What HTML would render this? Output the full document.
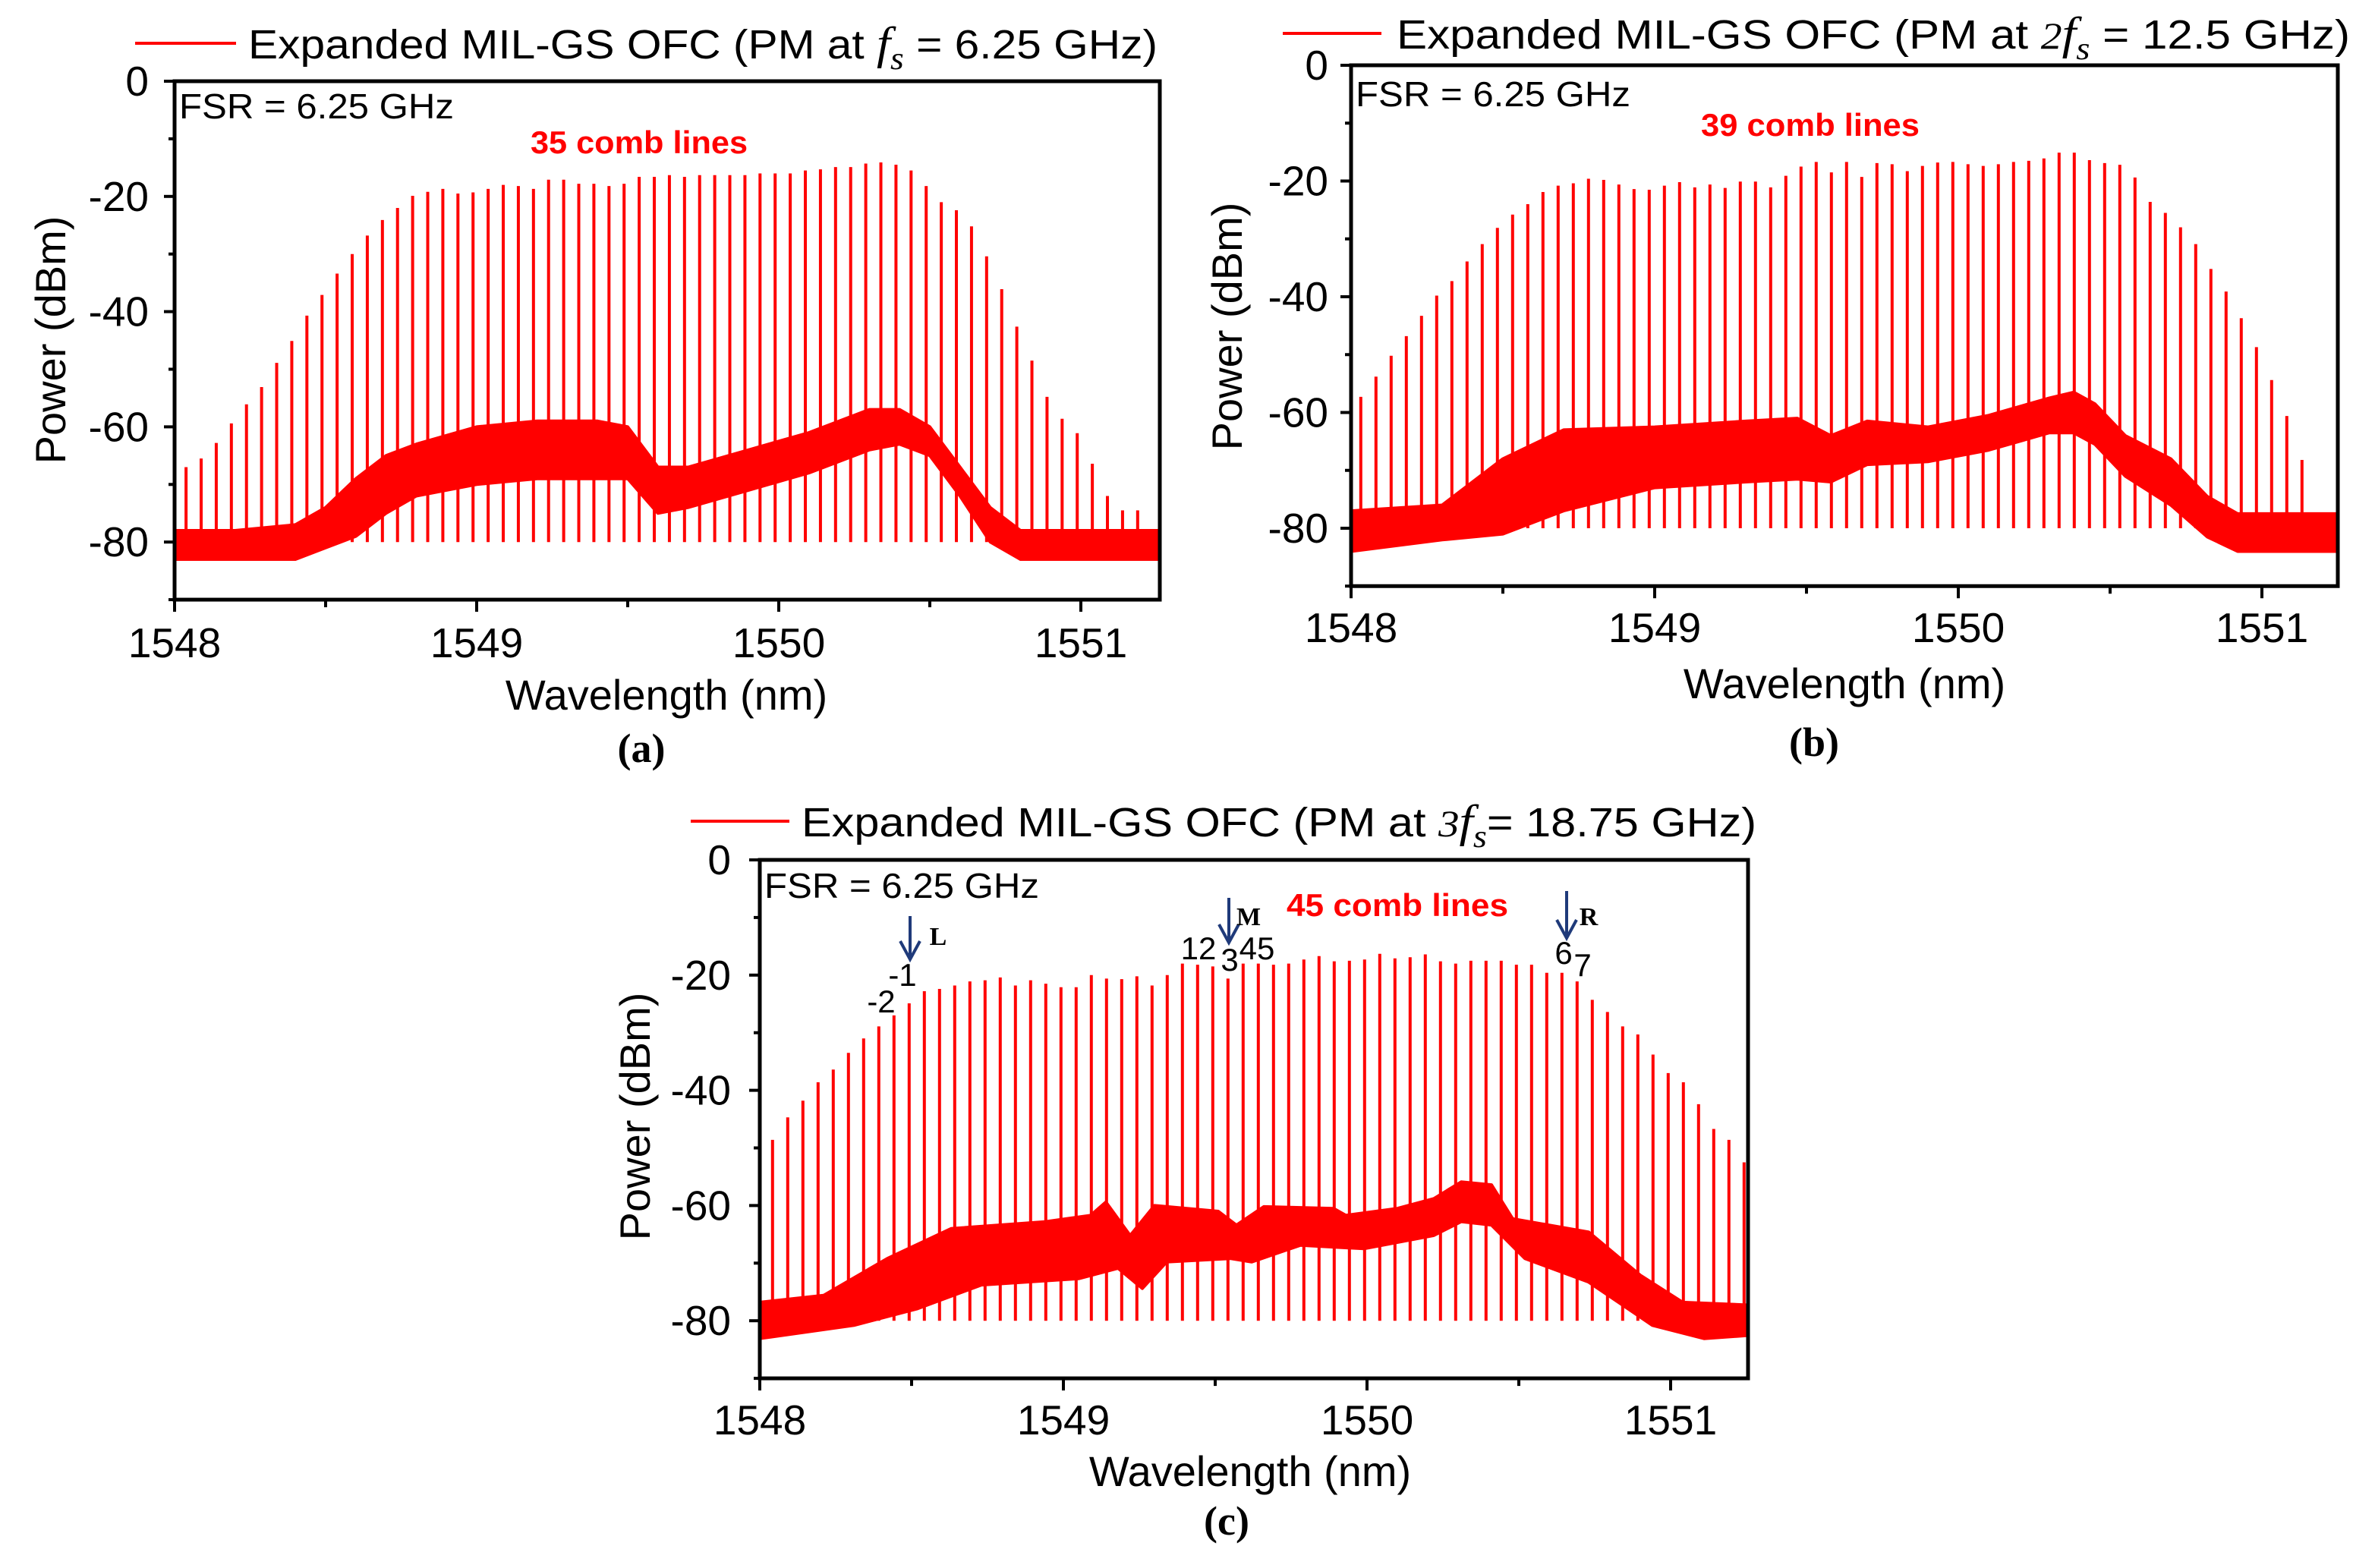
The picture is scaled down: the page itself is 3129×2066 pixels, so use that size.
<!DOCTYPE html>
<html><head><meta charset="utf-8">
<style>
html,body{margin:0;padding:0;background:#fff;}
svg{display:block;}
text{font-family:"Liberation Sans",Arial,sans-serif;}
</style></head>
<body>
<svg id="fig" xmlns="http://www.w3.org/2000/svg" width="3129" height="2066" viewBox="0 0 3129 2066">
<rect x="0" y="0" width="3129" height="2066" fill="#fff"/>
</svg>
<script>
// ---------- DATA ----------
const xTickLabels = [1548, 1549, 1550, 1551];
const yTickLabels = [0, -20, -40, -60, -80];
const yMinorTicks = [-10, -30, -50, -70, -90];
const combFsrNm = 0.05;

// panel a
const combStartA = 1548.038;
const combPeaksA = [-67.0,-65.5,-62.8,-59.4,-56.1,-53.1,-48.9,-45.1,-40.7,-37.1,-33.4,-30.0,-26.8,-24.1,-22.0,-19.9,-19.2,-18.7,-19.5,-19.3,-18.7,-18.0,-18.2,-18.7,-17.1,-17.1,-17.8,-17.8,-18.2,-17.8,-16.6,-16.6,-16.3,-16.6,-16.3,-16.3,-16.3,-16.3,-16.0,-16.0,-16.0,-15.5,-15.3,-14.9,-14.9,-14.3,-14.1,-14.5,-15.5,-18.2,-21.0,-22.4,-25.2,-30.4,-36.1,-42.6,-48.5,-54.8,-58.6,-61.1,-66.4,-72.0,-74.5,-74.5];
const floorWlA = [1548.0,1548.2,1548.4,1548.5,1548.6,1548.7,1548.8,1549.0,1549.2,1549.4,1549.5,1549.6,1549.7,1549.9,1550.1,1550.3,1550.4,1550.5,1550.6,1550.7,1550.8,1551.0,1551.26];
const floorUpA = [-78,-78,-77,-74,-69,-65,-63,-60,-59,-59,-60,-67,-67,-64,-61,-57,-57,-60,-67,-74,-78,-78,-78];
const floorLoA = [-83,-83,-83,-81,-79,-75,-72,-70,-69,-69,-69,-75,-74,-71,-68,-64,-63,-65,-72,-80,-83,-83,-83];

// panel b
const combStartB = 1548.032;
const combPeaksB = [-57.3,-53.8,-50.2,-46.8,-43.3,-39.8,-37.3,-33.9,-30.9,-28.1,-25.8,-24.0,-21.9,-20.8,-20.4,-19.6,-19.8,-20.6,-21.4,-21.5,-20.8,-20.2,-21.1,-20.6,-21.2,-20.1,-20.1,-21.1,-19.1,-17.5,-16.7,-18.5,-16.7,-19.3,-16.9,-17.1,-18.3,-17.4,-16.8,-16.7,-17.1,-17.4,-17.1,-16.7,-16.5,-16.1,-15.1,-15.1,-16.4,-16.9,-17.2,-19.4,-23.6,-25.5,-28.0,-30.9,-35.2,-39.1,-43.7,-48.7,-54.4,-60.6,-68.2];
const floorWlB = [1548.0,1548.3,1548.5,1548.7,1549.0,1549.3,1549.47,1549.58,1549.7,1549.9,1550.1,1550.3,1550.38,1550.45,1550.55,1550.7,1550.82,1550.92,1551.26];
const floorUpB = [-77,-76,-68,-63,-62.5,-61.5,-61,-64,-61.5,-62.5,-60.5,-57.5,-56.5,-58.5,-64,-68,-74.5,-77.5,-77.5];
const floorLoB = [-84,-82,-81,-77,-73,-72,-71.5,-72,-69,-68.5,-66.5,-63.5,-63.5,-65.5,-71,-76,-81.5,-84,-84];

// panel c
const combStartC = 1548.042;
const combPeaksC = [-48.6,-44.7,-41.8,-38.6,-36.4,-33.5,-31.0,-28.9,-27.0,-24.9,-22.8,-22.4,-21.8,-21.1,-20.9,-20.4,-21.8,-20.9,-21.5,-22.1,-22.1,-20.0,-20.6,-20.7,-20.2,-21.8,-20.0,-18.0,-18.2,-18.5,-20.6,-18.0,-18.0,-18.2,-18.0,-17.3,-16.7,-17.6,-17.5,-17.3,-16.3,-17.1,-16.9,-16.4,-17.6,-18.0,-17.5,-17.5,-17.5,-18.2,-18.2,-19.6,-19.6,-21.1,-24.3,-26.4,-28.9,-30.3,-33.8,-37.0,-38.6,-42.4,-46.7,-48.6,-52.5];
const floorWlUpC = [1548.0,1548.21,1548.42,1548.63,1548.94,1549.09,1549.14,1549.22,1549.3,1549.51,1549.57,1549.66,1549.89,1549.93,1550.1,1550.22,1550.31,1550.41,1550.48,1550.73,1550.9,1551.04,1551.27];
const floorUpC = [-76.8,-75.6,-69.2,-64,-62.8,-61.7,-59.4,-65.2,-60,-61,-63.4,-60.2,-60.5,-61.7,-60.5,-58.8,-55.9,-56.4,-62.3,-64.6,-72.1,-76.8,-77.3];
const floorWlLoC = [1548.0,1548.31,1548.52,1548.73,1549.05,1549.18,1549.26,1549.34,1549.55,1549.62,1549.78,1549.99,1550.22,1550.31,1550.41,1550.52,1550.73,1550.94,1551.11,1551.27];
const floorLoC = [-83.1,-80.8,-77.9,-73.8,-72.7,-70.9,-74.4,-69.8,-69.2,-69.8,-66.9,-67.5,-65.2,-62.8,-63.4,-69.2,-73.3,-80.8,-83.1,-82.5];

// ---------- DRAW ----------
const NS = "http://www.w3.org/2000/svg";
const svg = document.getElementById('fig');
function mk(tag, attrs, parent){
  const e = document.createElementNS(NS, tag);
  for (const k in attrs) e.setAttribute(k, attrs[k]);
  (parent || svg).appendChild(e);
  return e;
}
function txt(parent, s, attrs){ const t = mk('text', attrs, parent); t.textContent = s; return t; }

function drawPanel(p){
  const g = mk('g', {});
  
  
  const X = v => p.x0 + (v - 1548) * p.pxNm;
  const Y = v => p.y0 - v * p.pxDb;
  const yb = Y(-90);
  const cp = mk('clipPath', {id: 'clip' + p.id}, g);
  mk('rect', {x: p.x0, y: p.y0, width: p.xr - p.x0, height: yb - p.y0}, cp);
  const plot = mk('g', {'clip-path': 'url(#clip' + p.id + ')'}, g);
  
  
  let pts = [];
  for (let i = 0; i < p.wlUp.length; i++) pts.push(X(p.wlUp[i]).toFixed(1) + ',' + Y(p.up[i]).toFixed(1));
  for (let i = p.wlLo.length - 1; i >= 0; i--) pts.push(X(p.wlLo[i]).toFixed(1) + ',' + Y(p.lo[i]).toFixed(1));
  const band = mk('polygon', {points: pts.join(' '), fill: '#ff0000', stroke: '#ff0000', 'stroke-width': 4, 'stroke-linejoin': 'round'}, plot);
  
  
  for (let i = 0; i < p.peaks.length; i++){
    const wl = p.start + i * combFsrNm;
    const ln = mk('line', {x1: X(wl), x2: X(wl), y1: Y(p.peaks[i]), y2: Y(-80), stroke: '#ff0000', 'stroke-width': 4}, plot);
    
    
  }
  const fr = mk('rect', {x: p.x0, y: p.y0, width: p.xr - p.x0, height: yb - p.y0, fill: 'none', stroke: '#000', 'stroke-width': 5}, g);
  
  
  yTickLabels.forEach(v => {
    mk('line', {x1: p.x0 - 14, x2: p.x0, y1: Y(v), y2: Y(v), stroke: '#000', 'stroke-width': 4}, g);
    const t = txt(g, String(v), {x: p.x0 - p.ylGap, y: Y(v) + 19, 'font-size': 55, 'text-anchor': 'end'});
    
    
  });
  yMinorTicks.forEach(v => mk('line', {x1: p.x0 - 8, x2: p.x0, y1: Y(v), y2: Y(v), stroke: '#000', 'stroke-width': 4}, g));
  xTickLabels.forEach(v => {
    mk('line', {x1: X(v), x2: X(v), y1: yb, y2: yb + 16, stroke: '#000', 'stroke-width': 4}, g);
    const t = txt(g, String(v), {x: X(v), y: p.xlY, 'font-size': 55, 'text-anchor': 'middle'});
    
    
    if (X(v + 0.5) < p.xr) mk('line', {x1: X(v + 0.5), x2: X(v + 0.5), y1: yb, y2: yb + 10, stroke: '#000', 'stroke-width': 4}, g);
  });
  const xt = txt(g, 'Wavelength (nm)', {x: p.xtX, y: p.xtY, 'font-size': 56, 'text-anchor': 'middle'});
  
  
  const yt = txt(g, 'Power (dBm)', {x: 0, y: 0, 'font-size': 56, 'text-anchor': 'middle', transform: 'translate(' + (p.ytX + 20) + ',' + p.ytY + ') rotate(-90)'});
  
  
  const pl = txt(g, '(' + p.id + ')', {x: p.plX, y: p.plY, 'font-size': 54, 'font-weight': 'bold', 'text-anchor': 'middle', style: 'font-family:"Liberation Serif",serif'});
  
  
  const fsr = txt(g, 'FSR = 6.25 GHz', {x: p.x0 + 6, y: p.fsrY, 'font-size': 46, textLength: 362, lengthAdjust: 'spacingAndGlyphs'});
  
  
  const cc = txt(g, p.combText, {x: p.ccX, y: p.ccY, 'font-size': 42, 'font-weight': 'bold', fill: '#ff0000', 'text-anchor': 'middle', textLength: p.ccW, lengthAdjust: 'spacingAndGlyphs'});
  
  
  const lg = mk('g', {}, g);
  
  
  mk('line', {x1: p.lgX1, x2: p.lgX2, y1: p.lgY, y2: p.lgY, stroke: '#ff0000', 'stroke-width': 4}, lg);
  const lt = mk('text', {x: p.ltX1, y: p.lgY + 20, 'font-size': 54, textLength: p.ltX2 - p.ltX1, lengthAdjust: 'spacingAndGlyphs'}, lg);
  lt.innerHTML = p.legendHTML;
  return {g, X, Y};
}

const fs = '<tspan font-family="Liberation Serif, serif" font-style="italic" font-size="60">f</tspan><tspan font-family="Liberation Serif, serif" font-style="italic" font-size="42" dy="14">s</tspan>';
const fsEnd = '<tspan dy="-14">';

drawPanel({id:'a', x0:230, xr:1528, y0:107, pxDb:7.59, pxNm:398, peaks:combPeaksA, start:combStartA,
  wlUp:floorWlA, up:floorUpA, wlLo:floorWlA, lo:floorLoA, ylGap:34, xlY:866, xtX:878, xtY:935, ytX:66, ytY:448,
  plX:845, plY:1004, fsrY:156, combText:'35 comb lines', ccX:842, ccY:202, ccW:286,
  lgX1:178, lgX2:311, lgY:57, ltX1:327, ltX2:1525,
  legendHTML:'Expanded MIL-GS OFC (PM at ' + fs + fsEnd + ' = 6.25 GHz)</tspan>'});

drawPanel({id:'b', x0:1780, xr:3080, y0:86, pxDb:7.625, pxNm:400, peaks:combPeaksB, start:combStartB,
  wlUp:floorWlB, up:floorUpB, wlLo:floorWlB, lo:floorLoB, ylGap:30, xlY:846, xtX:2430, xtY:920, ytX:1616, ytY:430,
  plX:2390, plY:996, fsrY:140, combText:'39 comb lines', ccX:2385, ccY:179, ccW:288,
  lgX1:1690, lgX2:1820, lgY:44, ltX1:1840, ltX2:3096,
  legendHTML:'Expanded MIL-GS OFC (PM  at <tspan font-family="Liberation Serif, serif" font-style="italic" font-size="50">2</tspan>' + fs + fsEnd + ' = 12.5 GHz)</tspan>'});

const pc = drawPanel({id:'c', x0:1001, xr:2303, y0:1133, pxDb:7.59, pxNm:400, peaks:combPeaksC, start:combStartC,
  wlUp:floorWlUpC, up:floorUpC, wlLo:floorWlLoC, lo:floorLoC, ylGap:38, xlY:1890, xtX:1647, xtY:1958, ytX:836, ytY:1471,
  plX:1616, plY:2022, fsrY:1183, combText:'45 comb lines', ccX:1841, ccY:1207, ccW:292,
  lgX1:910, lgX2:1040, lgY:1082, ltX1:1056, ltX2:2314,
  legendHTML:'Expanded MIL-GS OFC (PM at <tspan font-family="Liberation Serif, serif" font-style="italic" font-size="50">3</tspan>' + fs + fsEnd + '= 18.75 GHz)</tspan>'});

// panel c annotations
const ann = mk('g', {}, pc.g);


[[1199,1207,1264],[1619,1183,1242],[2064,1174,1236]].forEach(a => {
  const ar = mk('g', {}, ann);
  
  
  mk('line', {x1:a[0], x2:a[0], y1:a[1], y2:a[2], stroke:'#1f3a7a', 'stroke-width':4}, ar);
  mk('polyline', {points:(a[0]-13)+','+(a[2]-24)+' '+a[0]+','+a[2]+' '+(a[0]+13)+','+(a[2]-24), fill:'none', stroke:'#1f3a7a', 'stroke-width':4}, ar);
});
[['L',1236,1245],['M',1645,1219],['R',2093,1219]].forEach(a => {
  txt(ann, a[0], {x:a[1], y:a[2], 'font-size':34, 'font-weight':'bold', 'text-anchor':'middle', style:'font-family:"Liberation Serif",serif'});
});
[['-1',1189,1299],['-2',1161,1334],['12',1579,1264],['3',1620,1279],['45',1656,1264],['6',2060,1270],['7',2085,1286]].forEach(a => {
  txt(ann, a[0], {x:a[1], y:a[2], 'font-size':42, 'text-anchor':'middle'});
});
</script>
</body></html>
